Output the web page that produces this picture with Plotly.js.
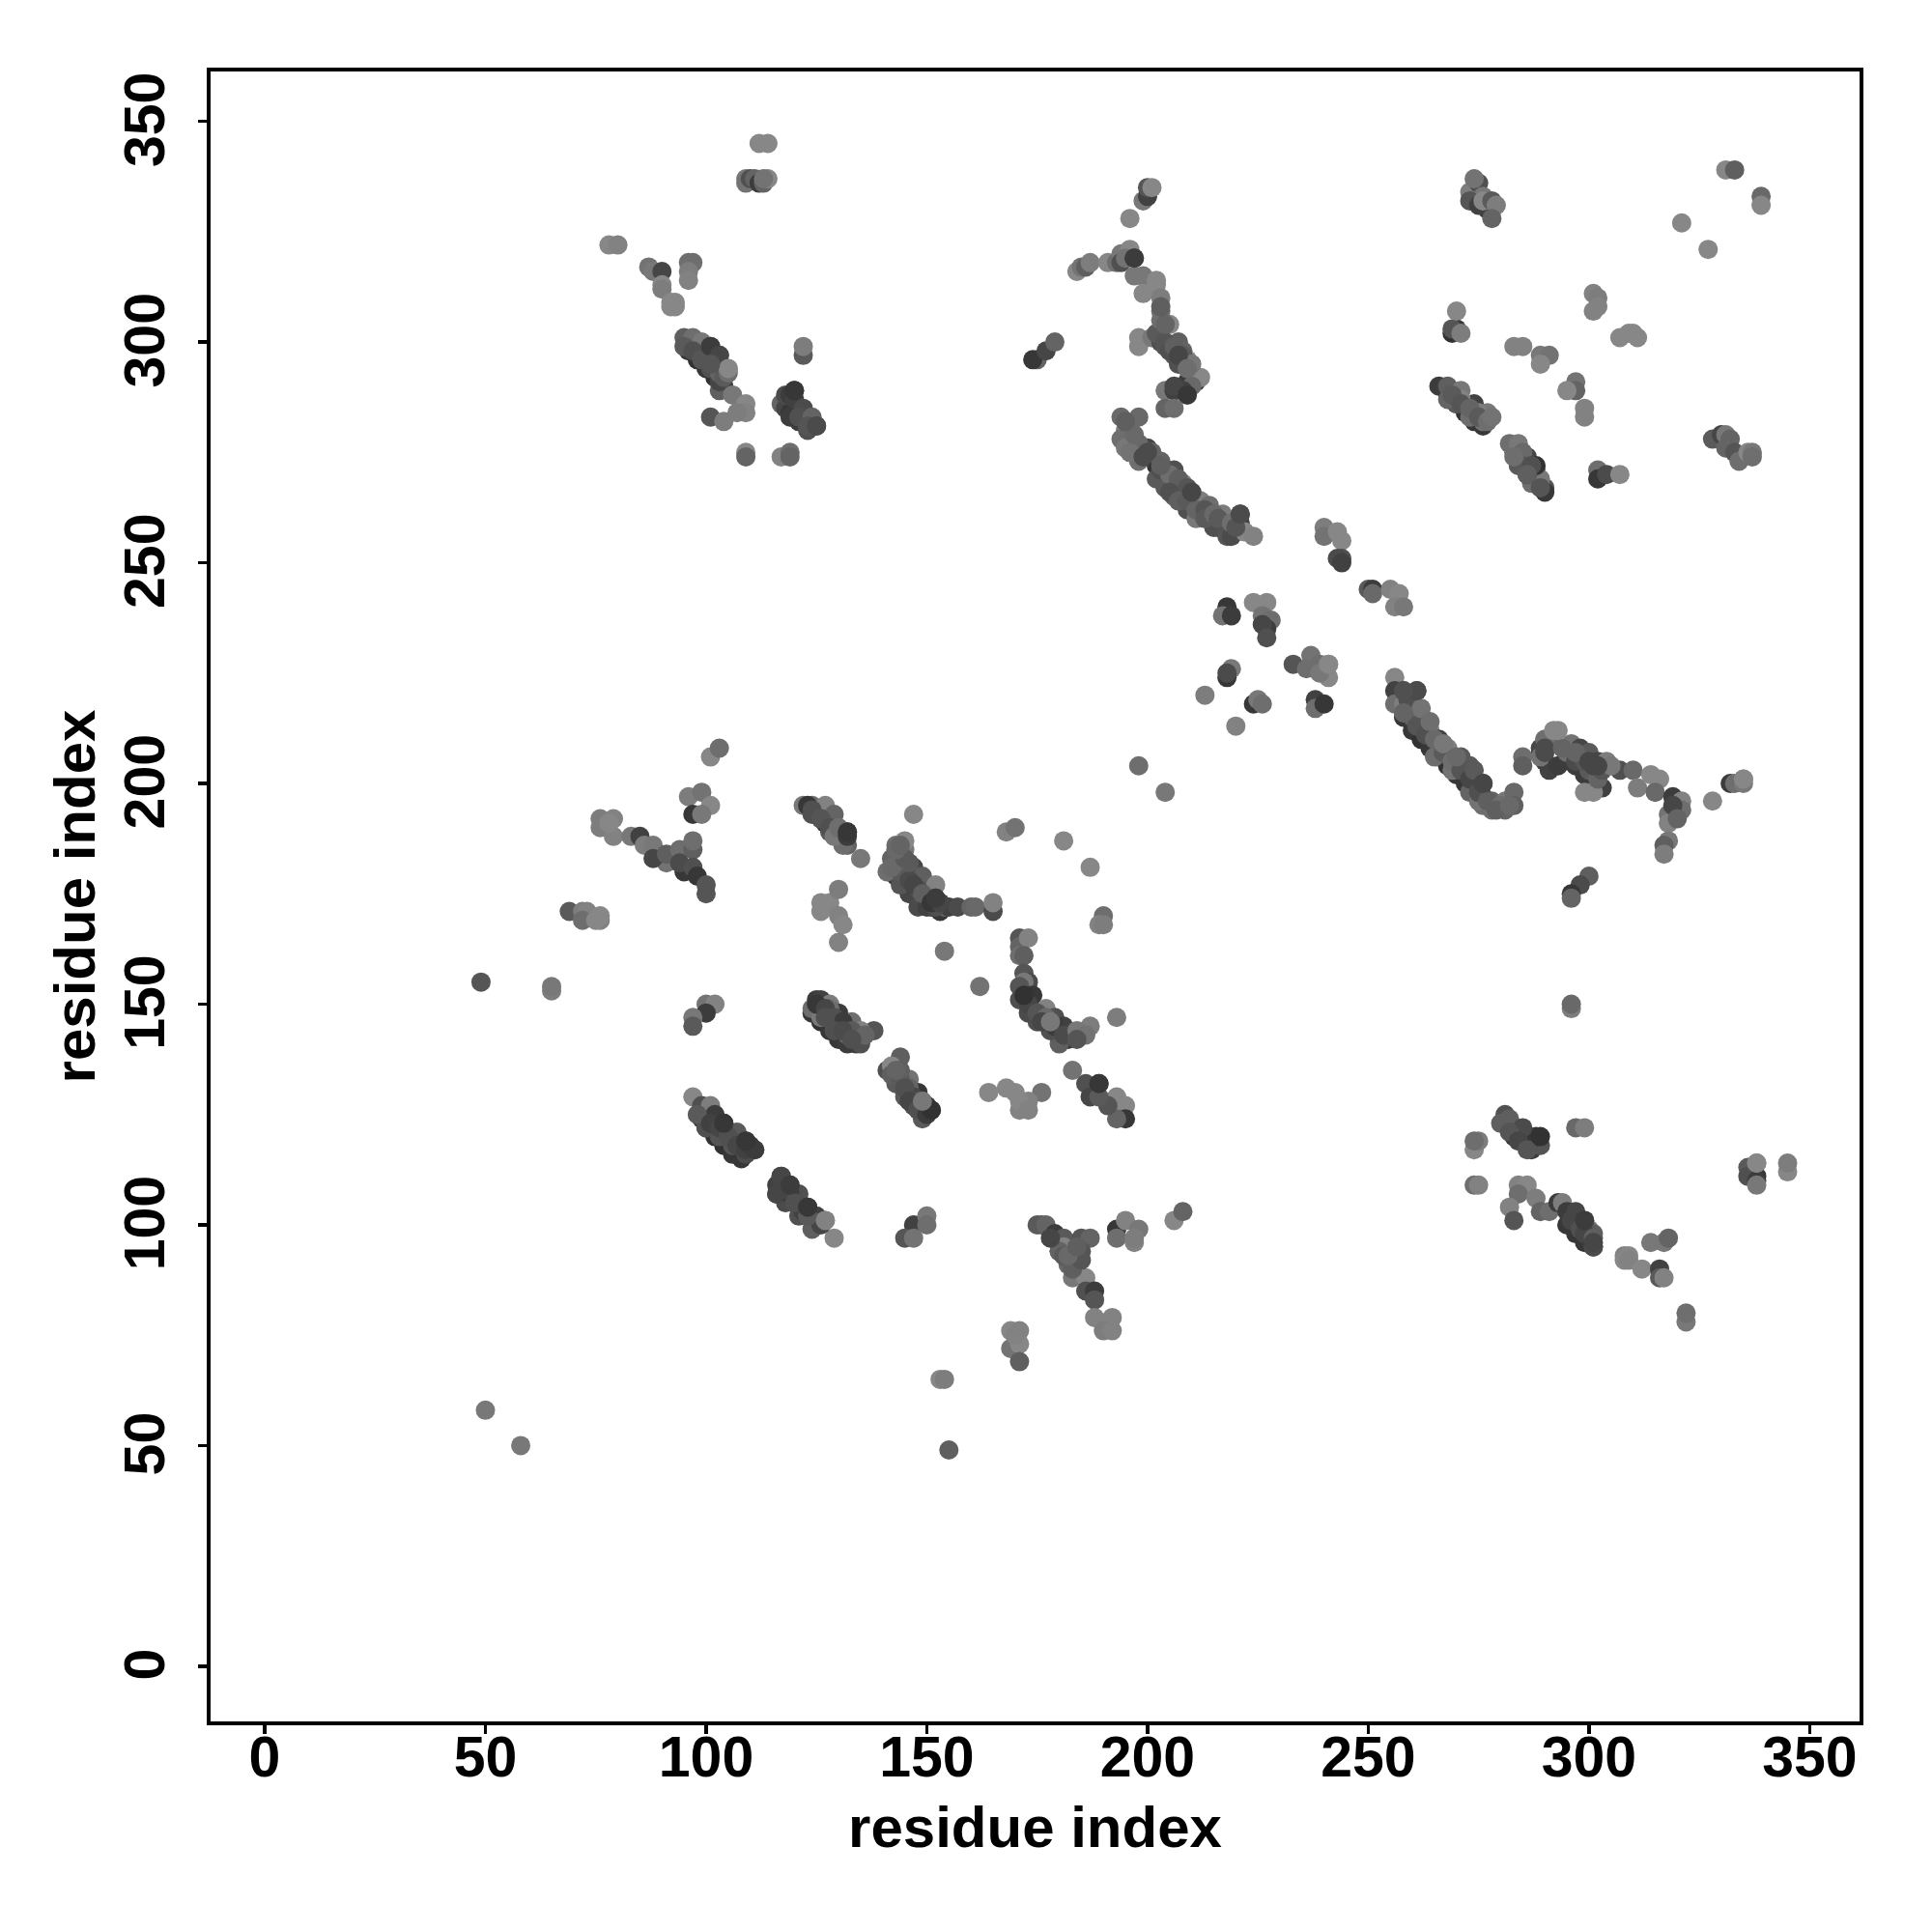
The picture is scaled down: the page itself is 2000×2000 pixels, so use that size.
<!DOCTYPE html>
<html><head><meta charset="utf-8">
<script src="https://cdn.plot.ly/plotly-3.0.1.min.js"></script>
<style>html,body{margin:0;padding:0;background:#fff}</style></head>
<body><div id="chart" style="width:2000px;height:2000px"></div>
<script>
// Contact-map points: residue index pairs and grey level of each dot, drawing order preserved.
const tickValues=[0,50,100,150,200,250,300,350];
const axisTitle="residue index";

const upperLeftX=[112,114,109,109,110,111,112,113,114,113,78,80,87,88,90,90,90,92,93,92,93,96,97,96,96];
const upperLeftY=[345,345,337,336,337,337,336,336,337,337,322,322,317,316,316,313,312,309,308,308,309,318,318,316,314];
const upperLeftG=[125,125,110,105,70,90,50,90,125,105,125,120,105,110,60,125,115,125,125,125,125,100,100,115,120];

const band300X=[96,98,100,102,104,97,99,101,103,95,97,99,101,103,105,103,103,106,109,109,107,101,104,109,109,117,119,119,122,122];
const band300Y=[298,296,294,292,290,299,297,295,293,301,301,300,299,297,294,289,291,288,286,284,284,283,282,275,274,274,275,274,297,299];
const band300G=[45,40,45,40,50,90,80,75,70,85,100,110,50,60,125,85,60,110,125,120,115,75,115,125,90,120,100,90,80,115];
const fill300X=[95,97,99,101,103,104,105];
const fill300Y=[299,298,296,294,293,292,293];
const fill300G=[80,70,75,70,90,80,100];

const block285X=[117,118,119,118,119,120,120,119,121,122,121,123,124,125,123];
const block285Y=[286,285,284,288,288,289,287,283,282,285,283,280,283,281,281];
const block285G=[90,60,45,65,50,45,55,50,50,65,70,70,90,65,75];

const topCenterX=[175,174,177,179,199,200,200,201,196,184,185,186,187,191,193,194,194,196,195,197,197,199,199,202,202,203,203,198,198];
const topCenterY=[296,296,298,300,332,333,335,335,328,316,317,317,318,318,318,320,318,321,319,319,315,315,311,314,313,310,307,301,299];
const topCenterG=[90,45,60,90,110,55,75,125,125,125,105,85,115,125,100,110,70,125,105,50,110,110,125,125,125,115,100,125,125];

const curve300X=[203,205,207,201,203,204,206,207,205,207,208,209,204,206,209,211,212,210,208,206,209,204,206];
const curve300Y=[300,298,296,301,300,299,297,295,304,300,298,296,289,289,291,291,292,290,289,290,288,285,285];
const curve300G=[40,45,45,110,70,75,80,70,125,85,90,125,110,55,50,60,125,95,55,60,45,90,100];
const fillCurveX=[202,204,205,206,208,210,207,209,203,204,203];
const fillCurveY=[302,300,298,299,297,295,297,294,305,304,308];
const fillCurveG=[80,75,70,85,80,110,60,100,100,90,85];

const longBandX=[200,202,204,206,208,210,212,214,216,218,194,195,196,194,196,198,195,198,198,200,200,202,203,206,202,204,208,206,210,209,212,214,211,217,221,218,215,218,221,219,222,224];
const longBandY=[274,272,270,268,266,264,262,260,258,257,283,280,281,278,278,283,276,273,276,276,274,273,273,271,269,267,268,265,266,262,264,263,260,261,261,259,258,256,259,256,257,256];
const longBandG=[40,40,40,40,40,40,40,40,45,45,95,115,125,100,100,95,110,100,110,60,80,45,90,70,80,80,120,90,60,70,115,100,110,115,65,115,70,75,55,65,125,120];
const fillLongX=[198,196,197,195,199,201,203,205,207,209,205,207,209,211,213,213,215,216,219,220];
const fillLongY=[277,275,279,282,274,275,271,270,269,267,266,264,264,262,262,260,261,260,259,258];
const fillLongG=[95,105,95,85,65,90,70,100,85,75,70,85,80,90,75,80,95,80,100,75];

const upperRightX=[331,333,339,339,321,327,273,275,274,276,278,277,273,275,276,278,279,278,301,302,302,301,307,309,310,311,270,269,269,270,271,283,285,289,291,289,297,297,295,299,299];
const upperRightY=[339,339,333,331,327,321,334,336,337,333,330,330,332,331,332,332,331,328,311,310,308,307,301,302,302,301,303,302,303,307,302,299,299,297,297,295,291,289,289,285,283];
const upperRightG=[125,85,95,125,125,125,115,70,105,110,45,50,75,55,125,80,115,90,120,115,120,120,125,125,125,125,45,40,75,125,115,120,120,110,105,125,105,90,125,120,120];

const band290X=[268,270,272,274,276,266,268,271,274,277,276,273,270,268,271,275,283,282,284,286,284,288,287,290,290,289,286,288,302,302,304,307,328,330,331,332,331,333,334,336,337,337];
const band290Y=[288,286,284,282,281,290,290,289,286,284,282,283,286,287,287,284,275,277,277,274,272,271,268,267,266,269,270,272,271,269,270,270,278,279,279,278,276,275,273,275,275,274];
const band290G=[40,40,40,45,45,50,85,110,55,110,105,100,80,90,120,115,90,100,110,60,80,120,100,75,45,110,45,40,100,45,65,125,80,60,110,90,90,75,100,125,110,100];
const fill290X=[269,271,273,275,277,278,285,285,287,286,289,283];
const fill290Y=[288,286,285,283,282,283,275,272,272,270,267,274];
const fill290G=[80,75,90,80,100,105,95,80,70,85,75,100];

const middleX=[240,240,243,244,244,243,244,250,251,251,255,257,256,258,218,217,219,224,227,226,228,227,226,227,233,237,236,239,241,241,239,219,218,218,213,224,225,226,220,238,238,240,198,204];
const middleY=[258,256,257,255,251,251,250,244,244,243,244,243,240,240,240,238,238,241,241,238,237,235,236,233,227,229,226,227,227,224,225,226,224,225,220,218,219,218,213,219,217,218,204,198];
const middleG=[115,105,125,125,70,65,55,80,50,95,120,125,120,110,45,105,50,125,125,105,100,50,60,70,75,105,100,100,125,125,110,110,45,65,115,45,110,100,120,55,100,45,100,110];

const band220X=[258,260,262,264,266,268,270,272,274,276,256,256,258,261,256,258,261,259,263,264,266,268,271,273,276,276,278,278,281,281,283,283,265,269,273,275];
const band220Y=[215,212,210,208,206,204,202,200,198,197,224,221,221,221,218,218,217,216,214,212,210,208,206,204,200,195,196,194,194,196,198,195,206,203,198,196];
const band220G=[45,45,40,45,45,40,45,45,50,50,125,55,65,60,100,115,120,95,105,120,55,115,80,80,55,100,90,100,90,110,95,85,100,105,90,105];
const fill220X=[259,260,261,263,265,267,269,271,273,275,277,262,264,267,270,274,258,280,279,282];
const fill220Y=[219,215,213,211,210,207,205,203,201,198,196,217,214,209,206,203,216,195,194,195];
const fill220G=[70,85,75,70,95,80,100,75,60,70,85,105,100,110,95,80,90,100,85,95];

const arcX=[289,290,291,293,295,297,299,301,303,285,285,289,289,292,290,290,292,296,298,300,302,304,307,310,311,314,316,315,319,321,321,318,318,318,317,317,299,301,295,297,300,302,328,332,333,335,335,300,298,296,296];
const arcY=[207,205,203,204,206,204,202,200,199,206,204,208,206,209,207,210,212,209,208,207,205,205,203,203,199,202,201,198,197,196,194,193,191,187,186,184,198,198,207,205,203,201,196,200,200,201,200,179,177,175,174];
const arcG=[50,50,55,50,50,50,50,50,55,100,85,60,105,95,65,100,125,105,60,80,60,115,70,95,115,125,125,95,50,120,100,105,120,110,85,115,125,125,100,65,80,90,125,50,100,125,110,85,65,45,90];
const fillArcX=[290,294,299,301,303,305,297,300,319,320];
const fillArcY=[208,208,205,204,203,204,207,205,195,192];
const fillArcG=[65,90,75,60,75,110,90,60,60,90];

const lowerRightX=[296,296,274,275,274,297,299,283,285,287,289,288,281,280,282,285,282,284,286,338,336,336,338,338,338,345,345,274,275];
const lowerRightY=[149,150,117,119,119,122,122,120,119,117,118,120,125,123,124,122,121,119,117,111,113,111,110,109,114,112,114,109,109];
const lowerRightG=[115,95,125,115,100,95,115,45,45,50,75,45,70,85,85,65,75,60,75,45,80,70,50,110,125,125,115,100,120];

const band100X=[295,297,299,298,300,301,284,286,284,288,282,283,289,291,293,294,295,297,299,300,301,301,308,309,308,309,312,316,316,317,314,317,318,322,322];
const band100Y=[100,98,96,100,97,95,109,109,107,106,104,101,103,103,105,105,103,103,101,99,95,98,93,93,92,92,90,90,88,88,96,96,97,78,80];
const band100G=[45,45,45,60,50,70,120,125,100,115,120,75,90,100,50,115,50,60,50,110,65,85,120,125,125,120,125,55,80,120,110,110,90,110,100];
const fill100X=[296,298,300,299,301,301];
const fill100Y=[101,99,98,98,97,96];
const fill100G=[60,70,80,60,85,60];

const leftX=[101,103,96,99,101,97,99,76,79,76,79,78,83,85,86,88,91,88,91,94,97,95,94,97,97,98,100,100,69,72,73,72,76,76,75];
const leftY=[206,208,197,198,195,193,193,192,192,190,188,191,188,188,186,186,182,183,184,185,185,180,182,187,181,179,175,177,171,171,171,169,169,170,169];
const leftG=[125,100,115,105,125,45,110,115,120,115,120,125,110,55,115,110,105,60,85,100,85,45,65,100,70,45,75,75,80,115,120,100,120,125,125];

const band190X=[125,127,129,131,124,122,123,127,124,126,128,129,132,132,135,147];
const band190Y=[193,191,189,187,195,195,195,195,193,192,189,193,189,186,183,193];
const band190G=[45,45,45,50,100,110,45,120,70,75,80,90,45,90,110,125];
const fill190X=[124,126,128,130,131,129,130,132];
const fill190Y=[194,192,190,188,186,188,190,188];
const fill190G=[70,75,70,60,100,110,100,50];

const band180X=[143,145,147,149,151,153,142,141,143,145,145,147,149,152,146,148,144,150,152,154,155,157,160,161,165,165];
const band180Y=[179,177,175,173,172,171,183,180,186,185,187,181,179,177,175,172,177,174,174,172,172,172,172,172,171,173];
const band180G=[45,45,45,40,45,45,90,100,100,110,125,60,85,120,60,65,75,50,45,90,55,65,90,95,65,120];
const fill180X=[144,146,148,150,152,144,146,147,149,151,143,142,153,145,143,144];
const fill180Y=[180,178,176,172,172,183,182,177,175,173,182,181,173,183,185,186];
const fill180G=[80,65,70,55,70,75,80,60,85,45,90,95,60,80,95,90];

const midCenterX=[126,128,126,130,131,130,130,181,187,168,170,190,189,190,154,162,193,183];
const midCenterY=[173,173,171,170,168,164,176,187,181,189,190,170,168,168,162,154,147,135];
const midCenterG=[125,125,125,120,125,120,115,125,125,120,105,100,120,115,110,105,115,105];

const band150X=[124,126,128,130,132,134,125,126,124,128,130,133,138,135,135,132,129,126,128];
const band150Y=[148,146,144,142,141,141,151,151,149,150,148,146,144,144,141,143,145,147,149];
const band150G=[45,40,45,45,50,50,50,55,100,115,50,100,75,120,70,90,85,110,100];
const fill150X=[125,127,129,131,133,136,127,129,131,133];
const fill150Y=[150,149,147,146,144,143,147,144,144,142];
const fill150G=[45,60,70,50,80,90,70,70,65,70];

const band125X=[100,102,104,106,108,99,97,99,101,102,104,107,109,111,109,106,103,100,98];
const band125Y=[122,120,118,116,115,124,129,127,127,125,123,121,119,117,116,118,120,122,125];
const band125G=[40,40,40,45,45,55,125,70,115,50,45,80,45,50,65,75,75,70,80];
const fill125X=[101,103,105,107,109,110];
const fill125Y=[123,122,120,118,117,118];
const fill125G=[55,60,70,60,55,50];

const band130X=[143,145,147,149,141,144,142,146,148,151,149,147,145,143,149];
const band130Y=[133,130,127,125,135,138,136,133,130,126,124,127,129,132,128];
const band130G=[45,40,45,45,70,85,125,105,45,45,80,70,80,80,110];
const fill130X=[142,144,146,147,148,150,144,143,145,146,148,150];
const fill130Y=[134,133,131,129,128,127,135,135,131,128,126,125];
const fill130G=[85,80,90,60,75,45,85,90,70,60,70,50];

const band110X=[118,120,122,124,116,116,117,119,121,123,125,127,129,124,121,118,116];
const band110Y=[108,106,104,101,109,107,111,109,107,104,102,101,97,99,102,105,107];
const band110G=[40,40,40,45,55,60,50,45,70,45,55,125,125,85,70,65,60];
const fill110X=[119,122,126,117,120,123];
const fill110Y=[107,103,100,108,105,102];
const fill110G=[50,55,60,60,70,80];

const band145X=[172,174,176,178,180,182,171,171,173,171,172,172,173,172,172,171,174,177,179,181,183,187,185,180,178,175,173,171];
const band145Y=[151,149,147,145,143,142,165,163,165,161,161,157,155,155,152,154,152,149,147,145,143,145,143,141,144,146,148,151];
const band145G=[40,45,40,45,45,50,75,90,120,100,85,75,65,110,45,75,45,120,70,55,50,115,100,85,70,70,65,70];
const fill145X=[173,175,177,179,181,184,186,184,176,178];
const fill145Y=[150,148,147,145,143,144,143,142,146,146];
const fill145G=[60,75,95,50,65,110,105,75,60,110];

const lowerCenterX=[100,102,100,97,97,147,145,147,150,150,164,168,170,176,171,173,171,173,186,189,187,193,195,195,193,191,189];
const lowerCenterY=[150,150,148,147,145,100,97,97,102,100,130,131,130,130,126,128,128,126,132,132,129,129,127,124,124,127,129];
const lowerCenterG=[105,120,50,110,80,55,75,105,110,100,125,125,125,105,120,120,125,120,70,45,60,125,125,45,90,75,80];

const band95X=[180,182,184,176,175,177,179,181,185,187,181,185,180,182,184,183,186,186,188,188,188,192,190,192];
const band95Y=[94,92,89,100,100,100,98,97,97,97,95,94,94,91,91,88,88,85,85,83,79,79,76,76];
const band95G=[45,45,45,75,80,90,50,80,75,90,120,75,90,95,90,110,125,70,50,75,120,120,115,120];
const fill95X=[178,181,183,183,185,182,184];
const fill95Y=[97,93,93,90,92,93,95];
const fill95G=[60,80,70,85,75,95,85];

const farDotsX=[50,58,49,65,65,155,153,154,169,171,169,171,171,170,193,193,195,197,198,197,206,208];
const farDotsY=[58,50,155,153,154,49,65,65,76,76,72,73,69,75,99,97,101,96,99,97,101,103];
const farDotsG=[110,110,75,115,110,85,125,115,125,120,105,125,85,120,45,100,120,120,110,115,125,90];

const accentX=[101,103,105,120,125,197,200,221,210,189,151,111,109,104,117,119,123,127,152,132,289,299,276,261,258,101,203,241,293,302,335,338,149,172];
const accentY=[299,297,294,289,281,319,275,261,266,132,126,117,119,123,111,109,104,101,174,189,120,101,200,221,221,295,272,227,212,204,201,114,128,152];
const accentG=[50,60,125,45,65,50,65,65,60,45,40,50,45,45,60,50,45,120,50,45,40,50,60,65,70,75,85,125,125,60,125,125,110,40];

const groups=[
 [upperLeftX,upperLeftY,upperLeftG],[band300X,band300Y,band300G],[fill300X,fill300Y,fill300G],[block285X,block285Y,block285G],
 [topCenterX,topCenterY,topCenterG],[curve300X,curve300Y,curve300G],[fillCurveX,fillCurveY,fillCurveG],[longBandX,longBandY,longBandG],[fillLongX,fillLongY,fillLongG],
 [upperRightX,upperRightY,upperRightG],[band290X,band290Y,band290G],[fill290X,fill290Y,fill290G],[middleX,middleY,middleG],
 [band220X,band220Y,band220G],[fill220X,fill220Y,fill220G],[arcX,arcY,arcG],[fillArcX,fillArcY,fillArcG],[lowerRightX,lowerRightY,lowerRightG],[band100X,band100Y,band100G],[fill100X,fill100Y,fill100G],
 [leftX,leftY,leftG],[band190X,band190Y,band190G],[fill190X,fill190Y,fill190G],[band180X,band180Y,band180G],[fill180X,fill180Y,fill180G],[midCenterX,midCenterY,midCenterG],
 [band150X,band150Y,band150G],[fill150X,fill150Y,fill150G],[band125X,band125Y,band125G],[fill125X,fill125Y,fill125G],[band130X,band130Y,band130G],[fill130X,fill130Y,fill130G],[band110X,band110Y,band110G],[fill110X,fill110Y,fill110G],
 [band145X,band145Y,band145G],[fill145X,fill145Y,fill145G],[lowerCenterX,lowerCenterY,lowerCenterG],[band95X,band95Y,band95G],[fill95X,fill95Y,fill95G],[farDotsX,farDotsY,farDotsG],[accentX,accentY,accentG]
];
const traces=groups.map(g=>({type:'scatter',mode:'markers',x:g[0],y:g[1],
  marker:{size:20,line:{width:0},color:g[2].map(v=>{const s=v+10;return `rgb(${s},${s},${s})`})},hoverinfo:'skip'}));

const fontFace='"Liberation Sans",Arial,sans-serif';
function axis(extra){return Object.assign({
  autorange:false,automargin:true,tickmode:'array',tickvals:tickValues,ticktext:tickValues.map(String),
  ticks:'outside',ticklen:9,tickwidth:3.5,tickcolor:'#000',showgrid:false,zeroline:false,
  showline:true,mirror:true,linecolor:'#000',linewidth:4,
  tickfont:{family:fontFace,size:59,color:'#000',weight:'bold'}
},extra)}
Plotly.newPlot('chart',traces,{
  width:2000,height:2000,autosize:false,showlegend:false,
  margin:{l:218,r:75,t:74,b:218,pad:0},paper_bgcolor:'#fff',plot_bgcolor:'#fff',
  xaxis:axis({range:[-12.26,361.3],tickangle:0,ticklabelstandoff:-27,
    title:{text:'<b>'+axisTitle+'</b>',font:{family:fontFace,size:60,color:'#000'},standoff:20}}),
  yaxis:axis({range:[-12.5,361.3],tickangle:-90,ticklabelstandoff:11,ticklabelshift:7,
    title:{text:'<b>'+axisTitle+'</b>',font:{family:fontFace,size:60,color:'#000'},standoff:0}})
},{displayModeBar:false,staticPlot:true});
</script></body></html>
